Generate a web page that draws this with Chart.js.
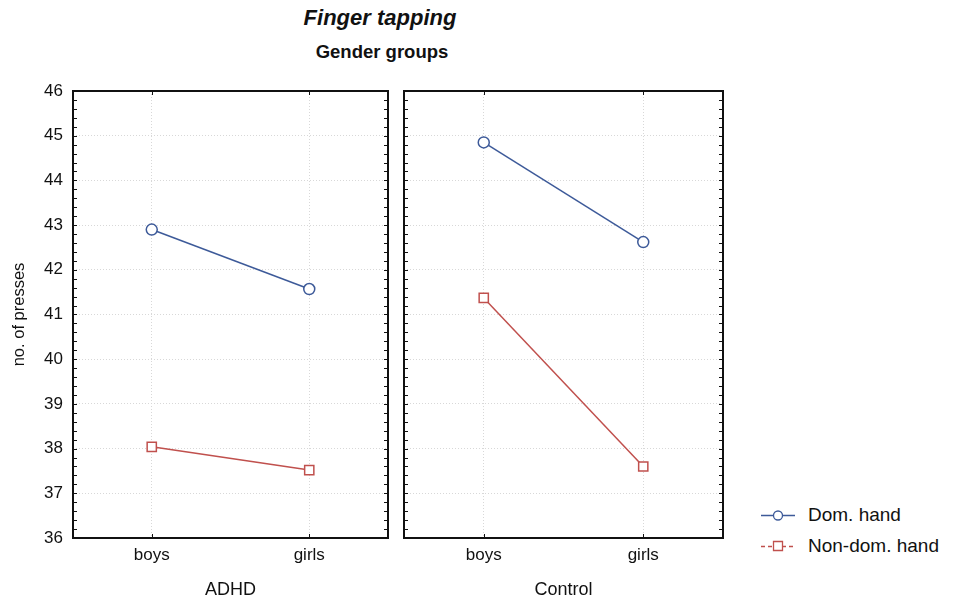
<!DOCTYPE html>
<html>
<head>
<meta charset="utf-8">
<script src="https://cdn.jsdelivr.net/npm/chart.js@4.4.1/dist/chart.umd.min.js"></script>
<style>
  html, body { margin:0; padding:0; background:#fff; }
  body { width:956px; height:601px; position:relative; overflow:hidden; font-family:"Liberation Sans", Arial, sans-serif; color:#111; }
  .t1 { position:absolute; left:230px; width:300px; top:5px; text-align:center; font-weight:bold; font-style:italic; font-size:22px; }
  .t2 { position:absolute; left:232px; width:300px; top:41px; text-align:center; font-weight:bold; font-size:18.5px; }
  #c1 { position:absolute; left:0; top:0; }
  #c2 { position:absolute; left:396px; top:0; }
  .leg { position:absolute; left:760px; font-size:19px; display:flex; align-items:center; }
  .leg canvas { margin-right:12px; }
</style>
</head>
<body>
<div class="t1">Finger tapping</div>
<div class="t2">Gender groups</div>
<canvas id="c1" width="396" height="601"></canvas>
<canvas id="c2" width="335" height="601"></canvas>
<div class="leg" style="top:504px"><canvas id="l1" width="36" height="20"></canvas><span>Dom. hand</span></div>
<div class="leg" style="top:535px"><canvas id="l2" width="36" height="20"></canvas><span>Non-dom. hand</span></div>
<script>
const categories = ['boys', 'girls'];
const panelNames = ['ADHD', 'Control'];
const seriesNames = ['Dom. hand', 'Non-dom. hand'];
const adhdDom = [42.9, 41.57];
const adhdNonDom = [38.04, 37.52];
const controlDom = [44.85, 42.62];
const controlNonDom = [41.37, 37.6];
const yMin = 36, yMax = 46, yStep = 1, minorStep = 0.2;

const BLUE = '#3d5a99';
const RED = '#c0504d';
const FONT = '"Liberation Sans", Arial, sans-serif';

const framePlugin = {
  id: 'frame',
  afterDraw(chart) {
    const ctx = chart.ctx, a = chart.chartArea;
    const ys = chart.scales.y, xs = chart.scales.x;
    ctx.save();
    ctx.strokeStyle = '#111';
    ctx.lineWidth = 1;
    ctx.beginPath();
    for (let v = yMin; v <= yMax + 1e-9; v += minorStep) {
      const py = Math.round(ys.getPixelForValue(v)) + 0.5;
      ctx.moveTo(a.left, py); ctx.lineTo(a.left + 4, py);
      ctx.moveTo(a.right, py); ctx.lineTo(a.right - 4, py);
    }
    categories.forEach((c, i) => {
      const px = Math.round(xs.getPixelForValue(i)) + 0.5;
      ctx.moveTo(px, a.bottom); ctx.lineTo(px, a.bottom - 4);
      ctx.moveTo(px, a.top); ctx.lineTo(px, a.top + 4);
    });
    ctx.stroke();
    ctx.lineWidth = 2;
    ctx.strokeRect(a.left, a.top, a.right - a.left, a.bottom - a.top);
    ctx.restore();
  }
};

function makeChart(id, dom, nondom, panelName, showY, yWidth) {
  return new Chart(document.getElementById(id), {
    type: 'line',
    data: {
      labels: categories,
      datasets: [
        { label: seriesNames[0], data: dom, borderColor: BLUE, backgroundColor: '#fff',
          borderWidth: 1.5, pointStyle: 'circle', pointRadius: 5.5, pointBorderWidth: 1.5,
          pointBackgroundColor: '#fff', pointBorderColor: BLUE, tension: 0 },
        { label: seriesNames[1], data: nondom, borderColor: RED, backgroundColor: '#fff',
          borderWidth: 1.5, pointStyle: 'rect', pointRadius: 6.5, pointBorderWidth: 1.5,
          pointBackgroundColor: '#fff', pointBorderColor: RED, tension: 0 }
      ]
    },
    options: {
      responsive: false,
      animation: false,
      layout: { padding: { top: 91, right: 5, bottom: 0, left: 0 } },
      plugins: { legend: { display: false }, tooltip: { enabled: false }, title: { display: false } },
      scales: {
        x: {
          type: 'category',
          offset: true,
          grid: { display: true, color: '#d8d8d8', drawTicks: false, offset: false },
          border: { display: false, dash: [1, 2] },
          ticks: { color: '#111', font: { family: FONT, size: 17 }, padding: 7 },
          title: { display: true, text: panelName, color: '#111', font: { family: FONT, size: 18 }, padding: { top: 6, bottom: 0 } },
          afterFit(s) { s.height = 63; }
        },
        y: {
          min: yMin, max: yMax,
          grid: { display: true, color: '#d8d8d8', drawTicks: false },
          border: { display: false, dash: [1, 2] },
          ticks: { display: showY, stepSize: yStep, color: '#111', font: { family: FONT, size: 17 }, padding: 10 },
          title: { display: showY, text: 'no. of presses', color: '#111', font: { family: FONT, size: 16.5 }, padding: { top: 10, bottom: 0 } },
          afterFit(s) { s.width = yWidth; }
        }
      }
    },
    plugins: [framePlugin]
  });
}

makeChart('c1', adhdDom, adhdNonDom, panelNames[0], true, 73);
makeChart('c2', controlDom, controlNonDom, panelNames[1], false, 6);

function legendMarker(id, color, square, dashed) {
  const ctx = document.getElementById(id).getContext('2d');
  ctx.strokeStyle = color; ctx.lineWidth = 1.3;
  if (dashed) ctx.setLineDash([4, 3]);
  ctx.beginPath(); ctx.moveTo(1, 10.5); ctx.lineTo(35, 10.5); ctx.stroke();
  ctx.setLineDash([]);
  ctx.fillStyle = '#fff';
  ctx.beginPath();
  if (square) ctx.rect(13.5, 5.5, 9, 9); else ctx.arc(18, 10.5, 4.5, 0, Math.PI * 2);
  ctx.fill(); ctx.stroke();
}
legendMarker('l1', BLUE, false, false);
legendMarker('l2', RED, true, true);
</script>
</body>
</html>
